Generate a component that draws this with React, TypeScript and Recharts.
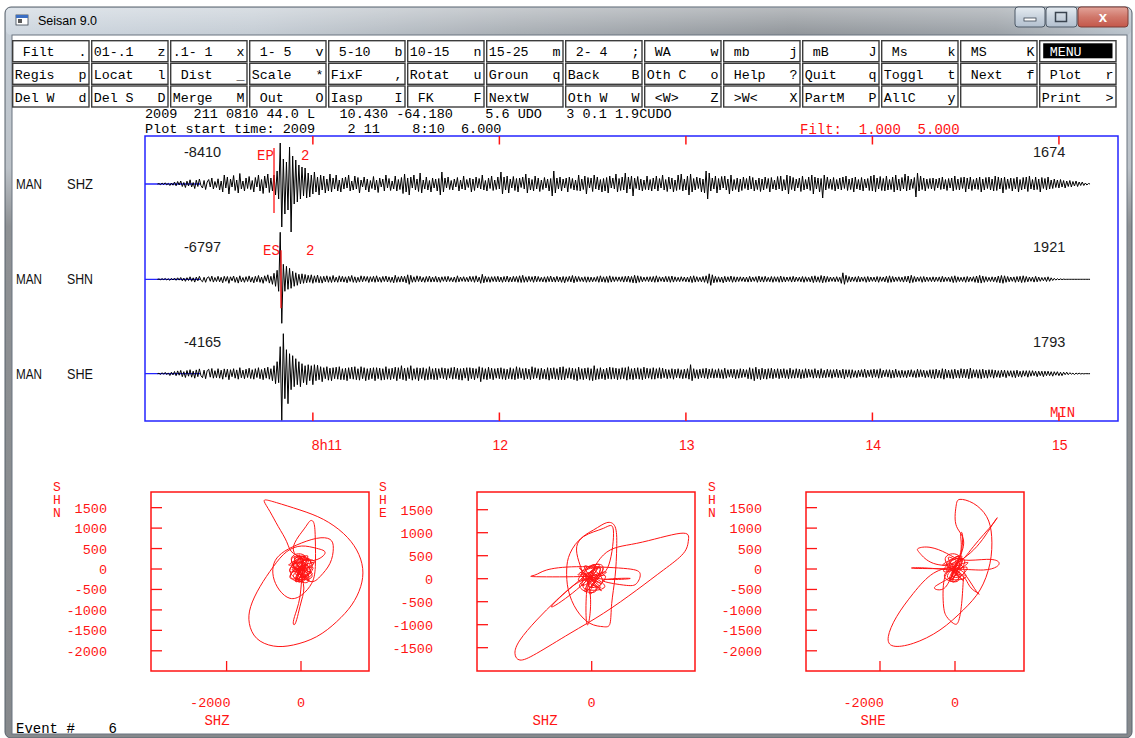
import React from 'react';
import { LineChart, Line, XAxis, YAxis, ReferenceArea, ReferenceLine } from 'recharts';

const MONO = '"Liberation Mono", "DejaVu Sans Mono", monospace';
const SANS = '"Liberation Sans", Arial, sans-serif';
const RED = '#ff1414';
const BLUE = '#2424ff';

// ---------------- menu ----------------
const menuRow1 = [' Filt   .', '01-.1   z', '.1- 1   x', ' 1- 5   v', ' 5-10   b', '10-15   n', '15-25   m', ' 2- 4   ;', ' WA     w', ' mb     j', ' mB     J', ' Ms     k', ' MS     K', ' MENU'];
const menuRow2 = ['Regis   p', 'Locat   l', ' Dist   _', 'Scale   *', 'FixF    ,', 'Rotat   u', 'Groun   q', 'Back    B', 'Oth C   o', ' Help   ?', 'Quit    q', 'Toggl   t', ' Next   f', ' Plot   r'];
const menuRow3 = ['Del W   d', 'Del S   D', 'Merge   M', ' Out    O', 'Iasp    I', ' FK     F', 'NextW', 'Oth W   W', ' <W>    Z', ' >W<    X', 'PartM   P', 'AllC    y', '', 'Print   >'];

// ---------------- header ----------------
const headerLine1 = '2009  211 0810 44.0 L   10.430 -64.180    5.6 UDO   3 0.1 1.9CUDO';
const headerLine2 = 'Plot start time: 2009    2 11    8:10  6.000';
const filterText = 'Filt:  1.000  5.000';

// ---------------- traces ----------------
const stations = ['MAN', 'MAN', 'MAN'];
const channels = ['SHZ', 'SHN', 'SHE'];
const ampLeft = ['-8410', '-6797', '-4165'];
const ampRight = ['1674', '1921', '1793'];
const TRACE_T0 = 4; // s after plot start of first sample
const TRACE_DT = 0.5; // s between samples
const timeTickSecs = [54, 114, 174, 234, 294];
const timeTickLabels = ['8h11', '12', '13', '14', '15'];

const shz = [
  0, 40, -60, 90, -50, 120, -80, 60, -150, 100, -120, 200, -180, 250, -100, 300, -250, 150, -350, 280,
  -200, 420, -300, 150, -450, 380, -250, 500, -150, -400, 350, -550, 200, 450, -300, 600, -500, 250, -350, 520,
  -600, 300, -800, 900, -400, 700, -1000, 500, -300, 850, -650, 400, -900, 1050, -500, 300, -700, 600, -450, 750,
  -550, 350, -800, 650, -300, 900, -700, 450, -950, 800, -400, 1000, -850, 600, -700, 900, -1100, 1300, -1500, 4100,
  -4300, 2500, -3000, 2200, -2600, 3700, -4800, 2800, -2000, 2400, -1800, 1900, -1500, 1700, -1200, 1600, -1400, 1100, -1300, 900,
  -1000, 1200, -800, 700, -1100, 900, -600, 800, -900, 500, -700, 1000, -800, 600, -500, 900, -700, 400, -800, 600,
  -500, 700, -400, 900, -700, 300, -600, 800, -500, 650, -900, 400, -300, 700, -600, 500, -800, 350, -450, 750,
  -600, 400, -850, 600, -300, 500, -700, 900, -400, 550, -650, 300, -500, 800, -700, 450, -550, 650, -950, 1000,
  -800, 600, -1100, 700, -400, 900, -600, 500, -750, 1100, -900, 400, -500, 700, -600, 350, -800, 600, -400, 500,
  -700, 550, -1100, 1200, -800, 600, -400, 700, -550, 350, -600, 500, -300, 650, -700, 400, -500, 800, -600, 450,
  -350, 600, -800, 500, -650, 700, -400, 550, -500, 900, -600, 350, -700, 600, -450, 800, -650, 400, -550, 700,
  -500, 1200, -1000, 700, -600, 800, -900, 500, -400, 750, -650, 550, -800, 600, -350, 700, -500, 1000, -900, 600,
  -600, 450, -700, 800, -500, 600, -750, 400, -550, 650, -400, 500, -700, 550, -1200, 1300, -900, 600, -500, 700,
  -700, 500, -400, 600, -800, 700, -450, 550, -600, 400, -650, 900, -700, 500, -550, 800, -1000, 650, -400, 600,
  -750, 900, -500, 700, -600, 450, -800, 550, -700, 650, -900, 800, -400, 600, -500, 1000, -800, 550, -650, 700,
  -600, 1100, -900, 700, -500, 800, -1200, 600, -450, 750, -600, 500, -700, 400, -550, 800, -600, 450, -700, 600,
  -500, 800, -700, 550, -400, 900, -600, 450, -750, 700, -500, 600, -800, 400, -650, 900, -550, 1000, -700, 500,
  -600, 800, -1100, 1000, -800, 550, -600, 700, -450, 600, -800, 500, -900, 1300, -1500, 1100, -700, 600, -500, 800,
  -900, 550, -600, 750, -400, 800, -600, 500, -1000, 900, -700, 450, -550, 600, -800, 500, -650, 700, -450, 550,
  -600, 800, -500, 650, -700, 400, -550, 600, -750, 500, -600, 700, -450, 550, -800, 650, -500, 400, -600, 750,
  -500, 800, -700, 450, -600, 900, -1000, 800, -550, 650, -700, 500, -400, 600, -750, 800, -600, 450, -500, 700,
  -650, 900, -1000, 700, -500, 600, -800, 550, -1400, 900, -600, 700, -450, 500, -550, 650, -700, 450, -500, 600,
  -600, 700, -450, 800, -650, 500, -550, 600, -800, 700, -500, 450, -600, 650, -700, 500, -400, 550, -650, 800,
  -700, 900, -800, 600, -500, 750, -650, 550, -700, 800, -600, 450, -550, 700, -800, 900, -600, 500, -700, 650,
  -500, 1000, -700, 800, -600, 500, -450, 650, -1300, 1100, -700, 800, -550, 600, -700, 500, -450, 550, -500, 600,
  -650, 500, -400, 600, -550, 700, -500, 450, -650, 550, -400, 600, -700, 800, -550, 500, -600, 650, -450, 700,
  -800, 600, -500, 700, -650, 450, -500, 600, -550, 700, -800, 500, -600, 650, -450, 700, -600, 500, -700, 800,
  -650, 700, -500, 600, -900, 700, -550, 500, -450, 600, -700, 550, -500, 700, -800, 450, -600, 650, -500, 700,
  -750, 800, -500, 450, -600, 700, -550, 500, -800, 650, -450, 550, -600, 700, -500, 400, -450, 500, -350, 400,
  -400, 450, -300, 350, -400, 300, -250, 350, -300, 250, -200, 300, -250, 200, -150, 200, -150, 100, -100, 50,
  0,
];

const shn = [
  0, 30, -40, 60, -30, 80, -60, 50, -100, 90, -70, 120, -100, 150, -80, 180, -150, 120, -200, 160,
  -120, 250, -200, 150, -280, 220, -150, 300, -100, -250, 200, -300, 150, 250, -200, 320, -280, 180, -220, 300,
  -250, 200, -350, 300, -200, 280, -400, 250, -150, 330, -300, 200, -380, 350, -250, 180, -300, 260, -220, 340,
  -280, 200, -350, 300, -250, 380, -300, 220, -400, 350, -200, 450, -380, 300, -500, 600, -700, 900, -1200, 4700,
  -4400, 1500, -1200, 1300, -1000, 1100, -900, 800, -700, 650, -600, 500, -450, 550, -400, 480, -350, 400, -300, 450,
  -400, 350, -300, 420, -350, 280, -380, 300, -250, 350, -300, 260, -320, 380, -280, 220, -300, 350, -250, 300,
  -280, 250, -350, 300, -220, 380, -300, 250, -330, 200, -280, 350, -250, 300, -200, 280, -320, 260, -240, 300,
  -300, 350, -250, 200, -300, 280, -220, 330, -270, 250, -300, 220, -350, 400, -300, 250, -280, 320, -260, 300,
  -350, 450, -500, 400, -300, 250, -280, 350, -220, 300, -260, 200, -300, 280, -240, 330, -280, 220, -250, 300,
  -280, 220, -300, 250, -200, 280, -260, 300, -220, 180, -250, 230, -300, 350, -260, 220, -200, 260, -230, 200,
  -250, 300, -220, 280, -300, 350, -260, 220, -400, 500, -350, 300, -280, 250, -300, 260, -220, 280, -250, 300,
  -270, 230, -300, 280, -250, 330, -280, 220, -260, 300, -240, 280, -300, 350, -320, 400, -300, 250, -280, 300,
  -220, 260, -300, 330, -250, 280, -230, 200, -260, 250, -300, 280, -240, 330, -260, 220, -280, 300, -250, 230,
  -300, 280, -350, 250, -220, 300, -260, 380, -350, 300, -250, 280, -220, 200, -240, 260, -300, 250, -280, 220,
  -250, 200, -220, 280, -300, 350, -260, 250, -300, 280, -320, 350, -280, 260, -230, 250, -200, 240, -220, 260,
  -280, 300, -250, 330, -300, 280, -350, 400, -380, 350, -300, 280, -250, 220, -200, 250, -230, 260, -250, 280,
  -300, 350, -280, 250, -200, 230, -260, 300, -250, 280, -300, 330, -280, 250, -220, 200, -240, 260, -200, 230,
  -250, 220, -280, 300, -330, 350, -280, 260, -230, 200, -250, 280, -300, 350, -400, 550, -600, 450, -350, 300,
  -300, 250, -280, 230, -350, 300, -270, 250, -230, 330, -300, 260, -280, 240, -220, 250, -200, 230, -250, 220,
  -280, 300, -250, 220, -200, 260, -300, 330, -260, 250, -280, 300, -230, 200, -250, 280, -300, 260, -220, 250,
  -300, 330, -280, 250, -260, 230, -200, 250, -280, 300, -260, 230, -200, 220, -250, 280, -300, 250, -220, 200,
  -260, 300, -330, 350, -280, 250, -300, 380, -350, 330, -300, 280, -250, 230, -200, 220, -250, 260, -230, 200,
  -400, 650, -500, 400, -300, 280, -250, 230, -200, 250, -280, 300, -260, 230, -200, 250, -300, 280, -250, 230,
  -200, 220, -250, 280, -300, 250, -200, 230, -260, 300, -330, 350, -300, 280, -250, 230, -200, 250, -230, 210,
  -280, 300, -250, 330, -380, 400, -320, 280, -250, 230, -200, 260, -300, 280, -250, 230, -210, 200, -230, 250,
  -250, 220, -200, 240, -280, 300, -250, 230, -200, 220, -250, 280, -330, 350, -300, 250, -230, 200, -220, 240,
  -300, 280, -250, 230, -200, 260, -300, 330, -350, 400, -380, 320, -300, 260, -230, 200, -220, 250, -240, 230,
  -300, 330, -350, 380, -400, 350, -300, 280, -250, 230, -200, 240, -300, 280, -250, 300, -330, 350, -300, 280,
  -250, 230, -200, 220, -280, 300, -250, 230, -200, 180, -150, 200, -220, 250, -200, 150, -120, 100, -80, 60,
  -50, 40, -30, 20, -10, 0, 0, 0, 0, 0, 0, 0, 0, 0, 0, 0, 0, 0, 0, 0,
  0,
];

const she = [
  0, 40, -70, 100, -60, 130, -90, 80, -180, 150, -120, 220, -200, 280, -150, 330, -300, 200, -380, 320,
  -250, 400, -350, 250, -450, 380, -300, 480, -200, -400, 350, -500, 300, 450, -350, 520, -450, 300, -400, 500,
  -450, 350, -550, 480, -350, 450, -600, 400, -300, 500, -450, 380, -550, 600, -400, 350, -500, 450, -380, 550,
  -480, 400, -550, 500, -380, 600, -500, 420, -600, 550, -450, 650, -550, 500, -700, 800, -1000, 1200, -900, 2700,
  -4650, 4000, -2500, 2400, -3000, 2000, -1600, 1800, -1300, 1500, -1100, 1200, -1300, 1000, -900, 800, -1100, 900, -700, 800,
  -1100, 900, -700, 850, -600, 700, -800, 600, -500, 700, -650, 550, -700, 600, -500, 650, -550, 700, -600, 500,
  -600, 550, -700, 600, -500, 650, -550, 700, -600, 500, -650, 700, -500, 600, -700, 500, -600, 550, -500, 600,
  -700, 600, -500, 550, -650, 500, -600, 700, -550, 500, -600, 550, -500, 650, -700, 600, -500, 800, -600, 550,
  -700, 600, -500, 800, -650, 500, -550, 600, -700, 550, -500, 600, -650, 500, -600, 700, -550, 500, -600, 550,
  -600, 500, -450, 600, -500, 550, -600, 500, -450, 600, -550, 650, -500, 550, -600, 500, -650, 550, -450, 600,
  -700, 600, -500, 550, -600, 500, -450, 700, -800, 600, -550, 500, -600, 650, -500, 550, -600, 500, -450, 550,
  -500, 600, -550, 500, -600, 450, -500, 600, -550, 500, -600, 700, -500, 600, -450, 500, -600, 550, -500, 450,
  -600, 700, -500, 600, -450, 500, -600, 550, -500, 450, -550, 600, -650, 550, -500, 600, -550, 500, -600, 650,
  -600, 700, -600, 500, -450, 600, -500, 550, -600, 500, -700, 650, -550, 500, -600, 550, -500, 600, -650, 500,
  -700, 800, -600, 500, -550, 600, -500, 450, -600, 550, -500, 650, -550, 600, -500, 550, -600, 500, -550, 600,
  -500, 600, -650, 700, -550, 500, -600, 550, -500, 600, -550, 500, -600, 650, -500, 550, -450, 500, -550, 600,
  -550, 500, -450, 600, -500, 550, -400, 450, -500, 400, -450, 500, -550, 450, -400, 500, -450, 400, -500, 450,
  -450, 500, -550, 900, -700, 500, -450, 400, -500, 450, -400, 500, -450, 550, -500, 450, -400, 500, -450, 400,
  -400, 500, -450, 400, -500, 550, -450, 400, -350, 450, -400, 450, -500, 400, -450, 500, -400, 450, -350, 400,
  -500, 600, -550, 500, -700, 650, -500, 450, -600, 550, -500, 450, -550, 500, -450, 550, -500, 450, -400, 500,
  -500, 450, -400, 500, -450, 400, -500, 550, -450, 400, -450, 500, -400, 450, -500, 400, -450, 500, -400, 450,
  -350, 400, -450, 500, -400, 350, -450, 500, -400, 350, -400, 450, -350, 400, -450, 400, -350, 450, -400, 350,
  -400, 450, -500, 400, -350, 400, -450, 400, -350, 300, -400, 350, -300, 400, -350, 450, -400, 350, -300, 400,
  -400, 450, -350, 400, -450, 500, -400, 350, -300, 400, -350, 400, -450, 350, -400, 450, -350, 300, -400, 350,
  -350, 300, -400, 350, -300, 400, -350, 300, -400, 450, -350, 400, -300, 350, -400, 300, -350, 400, -450, 400,
  -500, 450, -400, 350, -450, 500, -550, 450, -400, 350, -450, 400, -500, 450, -400, 350, -450, 500, -400, 450,
  -400, 450, -500, 550, -450, 400, -350, 400, -450, 400, -500, 450, -400, 350, -450, 400, -350, 400, -450, 350,
  -350, 300, -400, 350, -300, 350, -400, 300, -250, 300, -350, 300, -400, 350, -300, 250, -350, 300, -250, 300,
  -350, 300, -250, 300, -200, 250, -300, 250, -200, 250, -300, 250, -200, 250, -200, 200, -250, 200, -150, 200,
  -200, 150, -200, 150, -100, 150, -100, 100, -50, 50, -80, 60, -40, 50, -30, 20, -20, 10, 0, 0,
  0,
];

// phase picks (time in s after plot start, marker extent in trace units)
const phasePicks = [
  { name: 'EP', weight: '2', t: 41.5, top: 3600, bottom: -2900, axis: 'z' },
  { name: 'ES', weight: '2', t: 43.75, top: 2900, bottom: -2900, axis: 'n' },
];

const TRACE_X_MAX = 313;
const zDomain: [number, number] = [-23700, 4800];
const nDomain: [number, number] = [-14170, 14330];
const eDomain: [number, number] = [-4730, 23770];

const toSeries = (vals: number[]) => vals.map((v, i) => ({ t: TRACE_T0 + i * TRACE_DT, v }));
const shzData = toSeries(shz);
const shnData = toSeries(shn);
const sheData = toSeries(she);

// ---------------- particle motion ----------------
const pmZN: [number, number][] = [
  [0, 0], [150, 120], [-120, -80], [200, -150], [-180, 200], [100, 300], [-250, 50], [300, -100], [-100, -250], [50, 180],
  [-206, 383], [-385, 668], [-609, 1035], [-833, 1402], [-986, 1646], [-923, 1687], [-654, 1622], [-27, 1443], [600, 1214], [1138, 872],
  [1496, 465], [1658, 16], [1604, -432], [1362, -880], [959, -1288], [421, -1654], [-206, -1858], [-744, -1883], [-1192, -1695], [-1389, -1328],
  [-1353, -921], [-1102, -432], [-744, 57], [-385, 424], [18, 562], [421, 505], [645, 383], [250, 200], [-206, 465], [63, 954],
  [242, 1174], [349, 1117], [385, 709], [385, 57], [287, -350], [18, -636], [-296, -717], [-582, -513], [-744, -187], [-726, 139],
  [-520, 383], [-116, 587], [421, 750], [780, 725], [869, 505], [780, 139], [511, -187], [152, -269],
  [-200, 150], [250, -50], [-300, -200], [180, 250], [-150, -300], [300, 100], [-250, 250], [100, -200], [-50, 350], [200, -300], [-300, 0], [350, 200], [-100, -150], [0, 100],
  [18, -269], [-27, -676], [-116, -1002], [-206, -1288], [-161, -1345], [-72, -1084], [18, -758], [63, -350],
  [-40, 20], [180, -150], [-220, 120], [260, 200], [-150, -260], [90, 310], [-300, -60], [320, 40], [-60, -320], [140, 260],
  [-260, 220], [220, -280], [-120, 60], [300, -180], [-200, -200], [60, 150], [-330, 100], [180, 320], [-80, -150], [250, -40],
  [-180, 280], [100, -260], [-280, -140], [340, 160], [-20, -60], [120, 100], [-240, -20], [200, 250], [-100, -280], [30, 30],
];

const pmZE: [number, number][] = [
  [0, 0], [150, -100], [-120, 150], [200, 200], [-180, -150], [90, 260], [-60, -60],
  [205, 515], [790, 769], [1550, 986], [1697, 841], [1609, 551], [1258, 189], [790, -247], [205, -754], [-380, -1189], [-965, -1624], [-1258, -1769], [-1346, -1624], [-1258, -1334], [-965, -899], [-614, -464], [-263, -101],
  [-150, 100], [-263, 696], [29, 1058], [263, 1218], [410, 1131], [439, 696], [410, 43], [351, -537], [322, -972], [205, -1044], [-29, -972], [-263, -682], [-410, -247], [-439, 189], [-380, 551], [-146, 914], [205, 1095], [380, 1058], [300, 300],
  [-100, 50], [-965, 43], [-994, 80], [-790, 189], [-263, 261], [556, 225], [848, 116], [790, -101], [556, -138], [205, -29], [673, 7], [205, -10],
  [-50, 30], [150, -200], [-180, 120], [200, 250], [-120, -280], [60, 300], [-230, -40], [240, 60], [-40, -320], [110, 240],
  [-702, -594], [-100, -50], [-60, 0], [-80, -1000], [-40, -200],
  [-200, 210], [170, -260], [-90, 50], [230, -170], [-150, -190], [40, 140], [-240, 90], [130, 310], [-60, -140], [190, -30],
  [-130, 270], [80, -250], [-210, -130], [250, 150], [-10, -50], [90, 90], [-180, -10], [150, 230], [-80, -270], [20, 20],
];

const pmEN: [number, number][] = [
  [0, 0], [120, -100], [-150, 130], [180, 200], [-100, -180],
  [222, 546], [44, 1035], [27, 1524], [133, 1703], [489, 1606], [845, 1280], [978, 791], [933, 139], [667, -513], [222, -1002],
  [-400, -1491], [-1111, -1817], [-1645, -1883], [-1778, -1654], [-1556, -1165], [-1111, -595], [-578, -106], [-100, 50],
  [44, 139], [578, 546], [1067, 1182], [1022, 1117], [489, 546], [44, 139],
  [-578, 139], [-933, 383], [-978, 505], [-667, 530], [-222, 383], [222, 220], [845, 236], [1156, 179], [1111, 57], [756, -24], [0, 0], [-1067, 16], [-900, 30], [-200, -20],
  [-267, -187], [-311, -839], [-222, -1165], [-44, -1328], [89, -1288], [178, -839], [222, -269],
  [311, -187], [578, -554], [622, -595], [400, -432], [150, -150],
  [-300, -300], [-533, -432], [-500, -500], [-300, -480], [-100, -200],
  [150, 400], [151, 831], [204, 790], [100, 200],
  [-40, 20], [180, -150], [-220, 120], [260, 200], [-150, -260], [90, 310], [-300, -60], [320, 40], [-60, -320], [140, 260],
  [-260, 220], [220, -280], [-120, 60], [300, -180], [-200, -200], [60, 150], [-330, 100], [180, 320], [-80, -150], [250, -40],
  [-180, 280], [100, -260], [-280, -140], [340, 160], [-20, -60], [120, 100], [-240, -20], [200, 250], [-100, -280], [30, 30],
];

const pmPlots = [
  { key: 'A', data: pmZN, left: 151, xDomain: [-4032, 1828] as [number, number], yDomain: [-2494, 1883] as [number, number], xTicks: [-2000, 0], yTicks: [1500, 1000, 500, 0, -500, -1000, -1500, -2000], xName: 'SHZ', yName: 'SHN', xNameX: 217 },
  { key: 'B', data: pmZE, left: 477, xDomain: [-2012, 1812] as [number, number], yDomain: [-2007, 1885] as [number, number], xTicks: [0], yTicks: [1500, 1000, 500, 0, -500, -1000, -1500], xName: 'SHZ', yName: 'SHE', xNameX: 545 },
  { key: 'C', data: pmEN, left: 806, xDomain: [-3973, 1840] as [number, number], yDomain: [-2494, 1883] as [number, number], xTicks: [-2000, 0], yTicks: [1500, 1000, 500, 0, -500, -1000, -1500, -2000], xName: 'SHE', yName: 'SHN', xNameX: 873 },
];

// ---------------- layout constants ----------------
const BOX_H = 285;
const PM_W = 218;
const PM_H = 179;
const PM_TOP = 492;

function TimeTick(props: any) {
  const { x, y, payload } = props;
  const idx = timeTickSecs.indexOf(payload.value);
  const label = timeTickLabels[idx] ?? '';
  const dx = idx === 0 ? -1 : -7;
  return (
    <g>
      <line x1={x} x2={x} y1={y} y2={y - 8.5} stroke={RED} strokeWidth={1.5} />
      <line x1={x} x2={x} y1={y - BOX_H} y2={y - BOX_H + 8.5} stroke={RED} strokeWidth={1.5} />
      <text x={x + dx} y={y + 29} fill={RED} fontSize={14} fontFamily={SANS}>{label}</text>
    </g>
  );
}

function PMYTick(props: any) {
  const { x, y, payload } = props;
  return (
    <g>
      <line x1={x} x2={x + 11} y1={y} y2={y} stroke={RED} strokeWidth={1.3} />
      <text x={x - 44} y={y + 5} textAnchor="end" fill={RED} fontSize={13.5} fontFamily={MONO}>{String(payload.value)}</text>
    </g>
  );
}

function PMXTick(props: any) {
  const { x, y, payload } = props;
  return (
    <g>
      <line x1={x} x2={x} y1={y} y2={y - 10} stroke={RED} strokeWidth={1.3} />
      <text x={x + 4} y={y + 36} textAnchor="end" fill={RED} fontSize={13.5} fontFamily={MONO}>{String(payload.value)}</text>
    </g>
  );
}

function TraceChart() {
  return (
    <div style={{ position: 'absolute', left: 144, top: 135 }}>
      <LineChart width={975} height={BOX_H + 41} margin={{ top: 1, right: 1, bottom: 0, left: 1 }}>
        <XAxis dataKey="t" type="number" domain={[0, TRACE_X_MAX]} ticks={timeTickSecs} interval={0} allowDataOverflow
          height={40} axisLine={false} tickLine={false} tickSize={0} tickMargin={0} tick={(p: any) => <TimeTick {...p} />} />
        <YAxis yAxisId="z" type="number" domain={zDomain} allowDataOverflow hide />
        <YAxis yAxisId="n" type="number" domain={nDomain} allowDataOverflow hide />
        <YAxis yAxisId="e" type="number" domain={eDomain} allowDataOverflow hide />
        <ReferenceArea yAxisId="z" x1={0} x2={TRACE_X_MAX} y1={zDomain[0]} y2={zDomain[1]} fill="none" fillOpacity={0} stroke={BLUE} strokeWidth={1.5} ifOverflow="visible" />
        <ReferenceLine yAxisId="z" segment={[{ x: 0, y: 0 }, { x: 17.7, y: 0 }]} stroke={BLUE} strokeWidth={1.3} ifOverflow="visible" />
        <ReferenceLine yAxisId="n" segment={[{ x: 0, y: 0 }, { x: 17.7, y: 0 }]} stroke={BLUE} strokeWidth={1.3} ifOverflow="visible" />
        <ReferenceLine yAxisId="e" segment={[{ x: 0, y: 0 }, { x: 17.7, y: 0 }]} stroke={BLUE} strokeWidth={1.3} ifOverflow="visible" />
        <Line yAxisId="z" data={shzData} dataKey="v" type="linear" dot={false} stroke="#000" strokeWidth={1} isAnimationActive={false} />
        <Line yAxisId="n" data={shnData} dataKey="v" type="linear" dot={false} stroke="#000" strokeWidth={1} isAnimationActive={false} />
        <Line yAxisId="e" data={sheData} dataKey="v" type="linear" dot={false} stroke="#000" strokeWidth={1} isAnimationActive={false} />
        {phasePicks.map((p) => (
          <ReferenceLine key={p.name} yAxisId={p.axis} segment={[{ x: p.t, y: p.top }, { x: p.t, y: p.bottom }]} stroke={RED} strokeWidth={1.3} ifOverflow="visible" />
        ))}
      </LineChart>
    </div>
  );
}

function PMChart({ plot }: { plot: (typeof pmPlots)[number] }) {
  const data = plot.data.map(([x, y]) => ({ x, y }));
  return (
    <div style={{ position: 'absolute', left: plot.left - 100, top: PM_TOP - 1 }}>
      <LineChart width={100 + PM_W + 2} height={1 + PM_H + 50} data={data} margin={{ top: 1, right: 2, bottom: 0, left: 0 }}>
        <XAxis dataKey="x" type="number" domain={plot.xDomain} ticks={plot.xTicks} interval={0} allowDataOverflow
          height={50} axisLine={false} tickLine={false} tickSize={0} tickMargin={0} tick={(p: any) => <PMXTick {...p} />} />
        <YAxis type="number" domain={plot.yDomain} ticks={plot.yTicks} interval={0} allowDataOverflow
          width={100} axisLine={false} tickLine={false} tickSize={0} tickMargin={0} tick={(p: any) => <PMYTick {...p} />} />
        <ReferenceArea x1={plot.xDomain[0]} x2={plot.xDomain[1]} y1={plot.yDomain[0]} y2={plot.yDomain[1]} fill="none" fillOpacity={0} stroke={RED} strokeWidth={1.5} ifOverflow="visible" />
        <Line dataKey="y" type="natural" dot={false} stroke={RED} strokeWidth={1} isAnimationActive={false} />
      </LineChart>
    </div>
  );
}

function Chrome() {
  const x0 = 12.7;
  const pitch = 79.0;
  const bw = 76.3;
  const rowTops = [40.7, 63.3, 86];
  const rows = [menuRow1, menuRow2, menuRow3];
  const traceBase = [184, 279.3, 373.7];
  return (
    <svg width={1135} height={738} style={{ position: 'absolute', left: 0, top: 0 }}>
      <defs>
        <linearGradient id="tbg" x1="0" y1="0" x2="1" y2="0">
          <stop offset="0" stopColor="#cdd6df" />
          <stop offset="0.22" stopColor="#c4ccd4" />
          <stop offset="0.45" stopColor="#a8aeb4" />
          <stop offset="0.7" stopColor="#90959a" />
          <stop offset="0.88" stopColor="#9ba1a7" />
          <stop offset="1" stopColor="#b9c2cb" />
        </linearGradient>
        <linearGradient id="tbv" x1="0" y1="0" x2="0" y2="1">
          <stop offset="0" stopColor="#ffffff" stopOpacity="0.35" />
          <stop offset="1" stopColor="#ffffff" stopOpacity="0" />
        </linearGradient>
        <linearGradient id="sideg" x1="0" y1="0" x2="0" y2="1">
          <stop offset="0" stopColor="#c6cfd8" />
          <stop offset="0.22" stopColor="#bcc2c8" />
          <stop offset="0.3" stopColor="#8e9194" />
          <stop offset="1" stopColor="#86898c" />
        </linearGradient>
        <linearGradient id="btng" x1="0" y1="0" x2="0" y2="1">
          <stop offset="0" stopColor="#e6ecf2" />
          <stop offset="0.5" stopColor="#c9d3de" />
          <stop offset="1" stopColor="#b3c0cf" />
        </linearGradient>
        <linearGradient id="closeg" x1="0" y1="0" x2="0" y2="1">
          <stop offset="0" stopColor="#e3a59b" />
          <stop offset="0.5" stopColor="#d0776a" />
          <stop offset="1" stopColor="#c4574a" />
        </linearGradient>
      </defs>
      {/* window frame */}
      <rect x={5} y={7} width={1127} height={731} rx={6} fill="url(#sideg)" stroke="#56606b" />
      <rect x={6} y={8} width={1125} height={27} rx={5} fill="url(#tbg)" />
      <rect x={6} y={8} width={1125} height={27} rx={5} fill="url(#tbv)" />
      <rect x={12} y={35} width={1115} height={699} fill="#ffffff" stroke="#6b7580" strokeWidth={1} />
      {/* title */}
      <rect x={16} y={15} width={12} height={10} fill="#ffffff" stroke="#3a4450" strokeWidth={0.8} />
      <rect x={16} y={15} width={12} height={3} fill="#3b6fc4" />
      <rect x={18} y={19} width={4} height={4} fill="#5a5a5a" />
      <text x={38} y={25} fontSize={12.5} fontFamily={SANS} fill="#000">Seisan 9.0</text>
      {/* window buttons */}
      <rect x={1015} y={7} width={30} height={20} rx={3} fill="url(#btng)" stroke="#4d5966" />
      <rect x={1024} y={18} width={12} height={3} fill="#ffffff" stroke="#3a4450" strokeWidth={0.8} />
      <rect x={1046} y={7} width={31} height={20} rx={3} fill="url(#btng)" stroke="#4d5966" />
      <rect x={1055.5} y={12.5} width={11} height={9} fill="none" stroke="#3a4450" strokeWidth={1.5} />
      <rect x={1078} y={7} width={50} height={20} rx={3} fill="url(#closeg)" stroke="#7a3d36" />
      <text x={1103} y={22} textAnchor="middle" fill="#ffffff" fontSize={15} fontWeight="bold" fontFamily={SANS}>x</text>

      {/* menu */}
      {rows.map((row, r) =>
        row.map((label, c) => {
          const bx = x0 + c * pitch;
          const by = rowTops[r];
          const isMenu = r === 0 && c === 13;
          return (
            <g key={`m${r}-${c}`}>
              <rect x={bx} y={by} width={bw} height={21} fill="#fff" stroke="#3c3c3c" strokeWidth={1.4} />
              {isMenu && <rect x={bx + 3.5} y={by + 2.6} width={bw - 7} height={15} fill="#000" />}
              <text x={bx + 2} y={by + 15.5} fontSize={13.3} fontFamily={MONO} fill={isMenu ? '#fff' : '#000'} style={{ whiteSpace: 'pre' }} xmlSpace="preserve">{label}</text>
            </g>
          );
        })
      )}

      {/* header */}
      <text x={145} y={118} fontSize={13.5} fontFamily={MONO} fill="#000" xmlSpace="preserve" style={{ whiteSpace: 'pre' }}>{headerLine1}</text>
      <text x={145} y={133} fontSize={13.5} fontFamily={MONO} fill="#000" xmlSpace="preserve" style={{ whiteSpace: 'pre' }}>{headerLine2}</text>
      <text x={800} y={134} fontSize={14} fontFamily={MONO} fill={RED} xmlSpace="preserve" style={{ whiteSpace: 'pre' }}>{filterText}</text>

      {/* channel labels and amplitudes */}
      {traceBase.map((b, i) => (
        <g key={`tl${i}`}>
          <text x={16} y={b + 5} fontSize={15} fontFamily={SANS} fill="#111" textLength={26} lengthAdjust="spacingAndGlyphs">{stations[i]}</text>
          <text x={67} y={b + 5} fontSize={15} fontFamily={SANS} fill="#111" textLength={26} lengthAdjust="spacingAndGlyphs">{channels[i]}</text>
          <text x={184} y={b - 27} fontSize={14.5} fontFamily={SANS} fill="#1a1a1a">{ampLeft[i]}</text>
          <text x={1033} y={b - 27} fontSize={14.5} fontFamily={SANS} fill="#1a1a1a">{ampRight[i]}</text>
        </g>
      ))}
      {/* phase labels */}
      <text x={257} y={160} fontSize={14} fontFamily={MONO} fill={RED}>{phasePicks[0].name}</text>
      <text x={301} y={160} fontSize={14} fontFamily={MONO} fill={RED}>{phasePicks[0].weight}</text>
      <text x={263} y={255} fontSize={14} fontFamily={MONO} fill={RED}>{phasePicks[1].name}</text>
      <text x={306} y={255} fontSize={14} fontFamily={MONO} fill={RED}>{phasePicks[1].weight}</text>
      <text x={1050} y={417} fontSize={14} fontFamily={MONO} fill={RED}>MIN</text>

      {/* particle motion axis names */}
      {pmPlots.map((p) => {
        const lx = p.left - 94;
        return (
          <g key={`pn${p.key}`}>
            {p.yName.split('').map((ch, k) => (
              <text key={k} x={lx} y={491 + k * 13} textAnchor="middle" fontSize={13} fontFamily={MONO} fill={RED}>{ch}</text>
            ))}
            <text x={p.xNameX} y={725} textAnchor="middle" fontSize={14} fontFamily={MONO} fill={RED}>{p.xName}</text>
          </g>
        );
      })}

      {/* event number */}
      <text x={16} y={733} fontSize={14} fontFamily={MONO} fill="#000" xmlSpace="preserve" style={{ whiteSpace: 'pre' }}>{'Event #    6'}</text>
    </svg>
  );
}

export default function App() {
  return (
    <div style={{ position: 'absolute', left: 0, top: 0, width: 1135, height: 738, background: '#fff', overflow: 'hidden' }}>
      <Chrome />
      <TraceChart />
      {pmPlots.map((p) => (
        <PMChart key={p.key} plot={p} />
      ))}
    </div>
  );
}
